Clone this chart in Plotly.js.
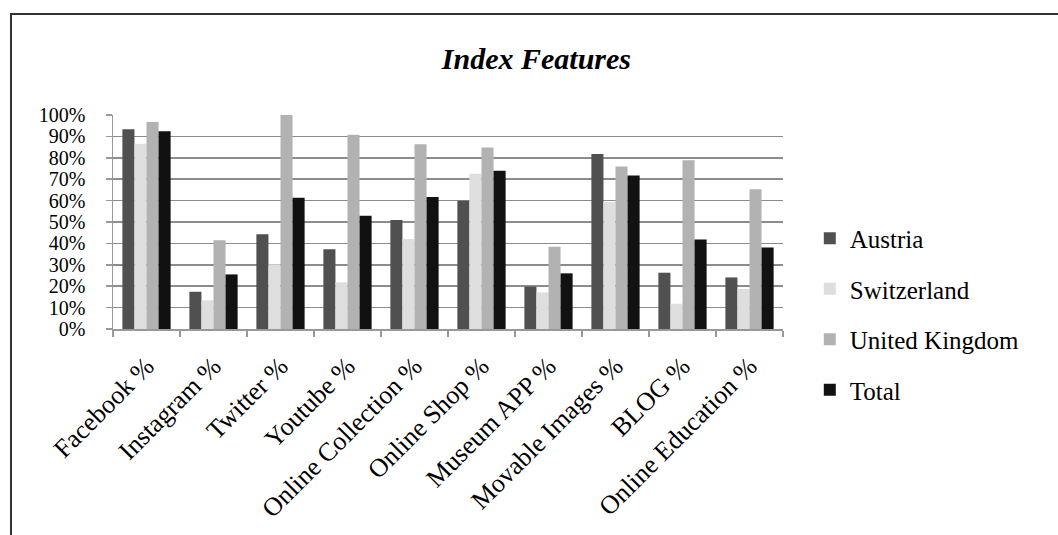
<!DOCTYPE html>
<html>
<head>
<meta charset="utf-8">
<script src="https://cdn.plot.ly/plotly-3.0.1.min.js"></script>
<style>
  html, body { margin: 0; padding: 0; overflow: hidden; background: #fff; }
  #frame { position: absolute; left: 10px; top: 13px; width: 1100px; height: 600px;
           border-top: 2px solid #333; border-left: 2px solid #333; pointer-events: none; z-index: 5; }
  #chart { position: absolute; left: 0; top: 0; width: 1058px; height: 535px; }
</style>
</head>
<body>
<div id="chart"></div>
<div id="frame"></div>
<script>
const categories = ["Facebook %", "Instagram %", "Twitter %", "Youtube %", "Online Collection %",
                    "Online Shop %", "Museum APP %", "Movable Images %", "BLOG %", "Online Education %"];
const austria     = [93.3, 17.4, 44.3, 37.3, 50.9, 59.9, 19.8, 81.8, 26.3, 24.1];
const switzerland = [86.6, 13.4, 30.3, 21.8, 42.1, 72.5, 17.1, 59.3, 11.8, 18.7];
const unitedKingdom = [96.7, 41.5, 100, 90.8, 86.3, 84.8, 38.4, 75.9, 78.8, 65.3];
const total       = [92.4, 25.5, 61.3, 52.9, 61.7, 74.0, 26.0, 71.7, 41.8, 38.1];
const yTickVals = [0, 10, 20, 30, 40, 50, 60, 70, 80, 90, 100];
const yTickText = ["0%", "10%", "20%", "30%", "40%", "50%", "60%", "70%", "80%", "90%", "100%"];

const series = [
  {name: "Austria", y: austria, color: "#505050"},
  {name: "Switzerland", y: switzerland, color: "#dedede"},
  {name: "United Kingdom", y: unitedKingdom, color: "#b2b2b2"},
  {name: "Total", y: total, color: "#111111"}
];

const data = series.map((s, i) => ({
  type: "bar",
  name: s.name,
  x: categories,
  y: s.y,
  legendgroup: "g" + i,
  marker: {color: s.color, line: {width: 0}},
  hoverinfo: "skip"
}));

const font = "'Liberation Serif', 'Times New Roman', serif";

const layout = {
  width: 1058, height: 535,
  margin: {l: 113, r: 275, t: 115, b: 206},
  paper_bgcolor: "#fff", plot_bgcolor: "#fff",
  barmode: "group",
  bargap: 0.28,
  bargroupgap: 0,
  font: {family: font, color: "#000"},
  title: {
    text: "<b><i>Index Features</i></b>",
    font: {family: font, size: 30, color: "#000"},
    x: 0.507, xanchor: "center", xref: "container",
    y: 1 - 69 / 535, yanchor: "bottom", yref: "container"
  },
  xaxis: {
    type: "category",
    tickangle: -45,
    tickson: "boundaries",
    ticks: "outside", ticklen: 6, tickcolor: "#999", tickwidth: 1.5,
    showline: true, linecolor: "#999", linewidth: 1.5,
    showgrid: false,
    tickfont: {family: font, size: 26, color: "#000"},
    ticklabelstandoff: 10,
    fixedrange: true
  },
  yaxis: {
    range: [0, 100],
    tickvals: yTickVals, ticktext: yTickText,
    ticks: "outside", ticklen: 6, tickcolor: "#999", tickwidth: 1.5,
    showline: true, linecolor: "#999", linewidth: 1.5,
    showgrid: true, gridcolor: "#8c8c8c", gridwidth: 1.5,
    zeroline: false,
    tickfont: {family: font, size: 20, color: "#000"},
    ticklabelstandoff: 16,
    fixedrange: true
  },
  showlegend: true,
  legend: {
    x: 1.04, xanchor: "left", y: 0.07, yanchor: "middle",
    font: {family: font, size: 25, color: "#000"},
    traceorder: "grouped",
    tracegroupgap: 15,
    bgcolor: "rgba(0,0,0,0)"
  }
};

Plotly.newPlot("chart", data, layout, {displayModeBar: false, staticPlot: true});
</script>
</body>
</html>
